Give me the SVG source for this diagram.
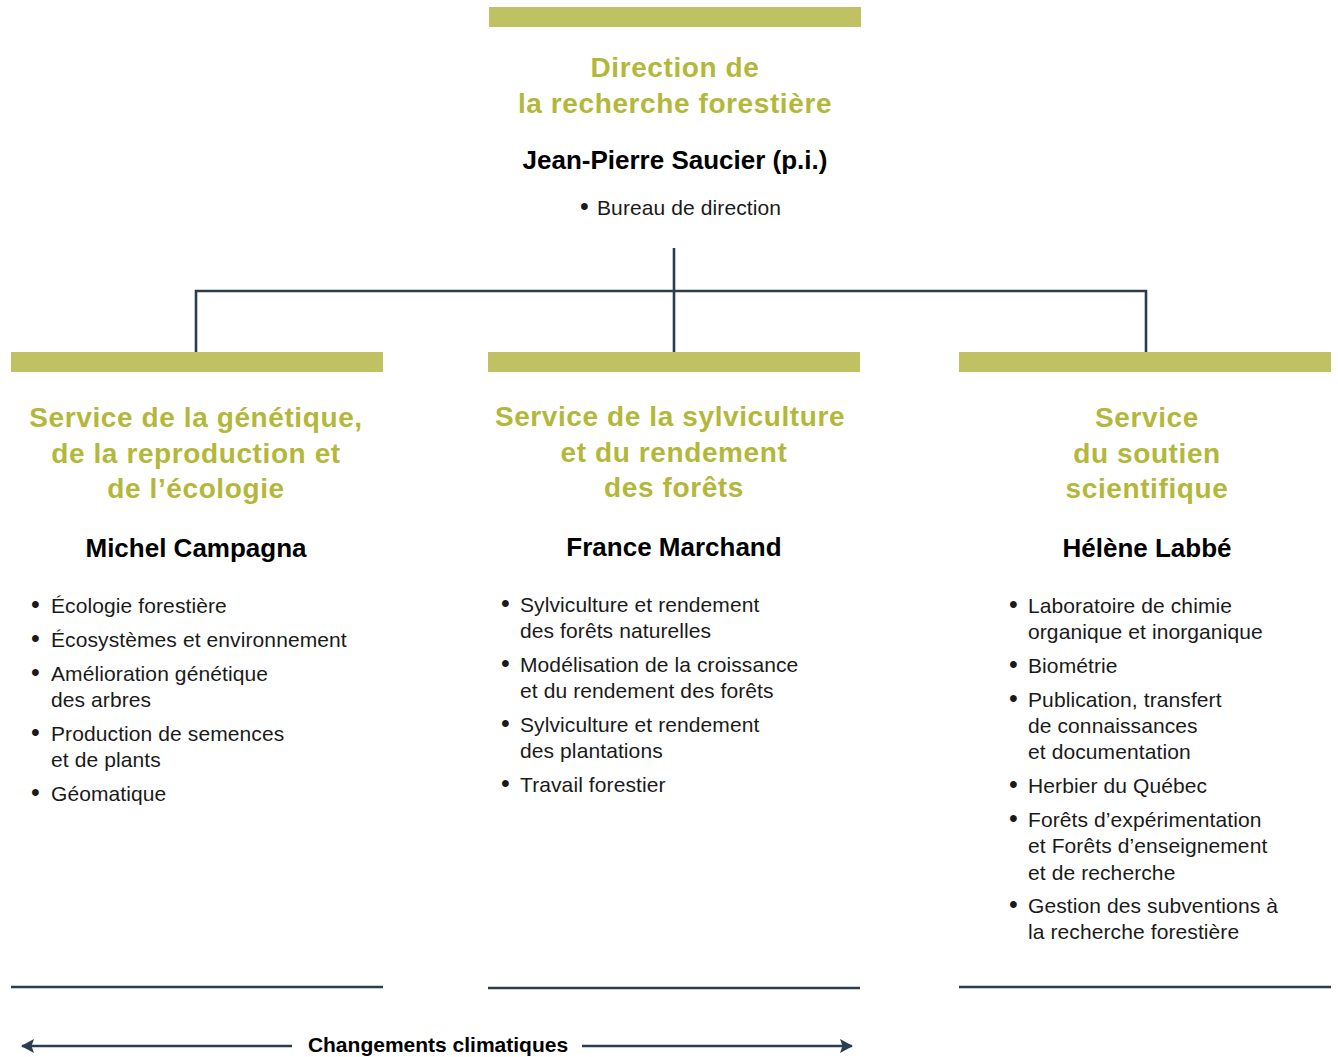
<svg xmlns="http://www.w3.org/2000/svg" width="1338" height="1057" viewBox="0 0 1338 1057">
<style>
.bar{fill:#C0C163}
.ln{stroke:#2B3E50;stroke-width:2.6;fill:none}
.t{font-family:"Liberation Sans",Arial,sans-serif;font-size:28px;letter-spacing:0.6px;font-weight:bold;fill:#B3B83B;text-anchor:middle}
.n{font-family:"Liberation Sans",Arial,sans-serif;font-size:26px;font-weight:bold;fill:#000;text-anchor:middle}
.b{font-family:"Liberation Sans",Arial,sans-serif;font-size:21px;letter-spacing:0.1px;fill:#1a1a1a}
.d{font-size:25px}
.c{font-family:"Liberation Sans",Arial,sans-serif;font-size:21px;font-weight:bold;fill:#000;text-anchor:middle}
</style>
<defs>
<marker id="ah" viewBox="0 0 13 14" refX="12" refY="7" markerWidth="13" markerHeight="14" orient="auto-start-reverse" markerUnits="userSpaceOnUse">
<path d="M0,0 L13,7 L0,14 L2.5,7 Z" fill="#2B3E50"/>
</marker>
</defs>
<g id="connectors">
<path class="ln" d="M674,248 V352 M196,352 V291 H1146 V352"/>
<line class="ln" x1="11" y1="987" x2="383" y2="987"/>
<line class="ln" x1="488" y1="988" x2="860" y2="988"/>
<line class="ln" x1="959" y1="987" x2="1331" y2="987"/>
<line class="ln" stroke-width="3" x1="22" y1="1046" x2="292" y2="1046" marker-start="url(#ah)"/>
<line class="ln" stroke-width="3" x1="582" y1="1046" x2="852" y2="1046" marker-end="url(#ah)"/>
<text class="c" x="438" y="1052">Changements climatiques</text>
</g>
<g id="direction">
<rect class="bar" x="489" y="7" width="372" height="20"/>
<text class="t" x="675" y="77">Direction de</text>
<text class="t" x="675" y="113">la recherche forestière</text>
<text class="n" x="675" y="169">Jean-Pierre Saucier (p.i.)</text>
<g class="b">
<text class="d" x="580" y="215">•</text><text x="597" y="215">Bureau de direction</text>
</g>
</g>
<g id="service-genetique">
<rect class="bar" x="11" y="352" width="372" height="20"/>
<text class="t" x="196" y="427">Service de la génétique,</text>
<text class="t" x="196" y="463">de la reproduction et</text>
<text class="t" x="196" y="498">de l’écologie</text>
<text class="n" x="196" y="557">Michel Campagna</text>
<g class="b">
<text class="d" x="31" y="613">•</text><text x="51" y="613">Écologie forestière</text>
<text class="d" x="31" y="647">•</text><text x="51" y="647">Écosystèmes et environnement</text>
<text class="d" x="31" y="681">•</text><text x="51" y="681">Amélioration génétique</text>
<text x="51" y="707">des arbres</text>
<text class="d" x="31" y="741">•</text><text x="51" y="741">Production de semences</text>
<text x="51" y="767">et de plants</text>
<text class="d" x="31" y="801">•</text><text x="51" y="801">Géomatique</text>
</g>
</g>
<g id="service-sylviculture">
<rect class="bar" x="488" y="352" width="372" height="20"/>
<text class="t" x="670" y="426">Service de la sylviculture</text>
<text class="t" x="674" y="462">et du rendement</text>
<text class="t" x="674" y="497">des forêts</text>
<text class="n" x="674" y="556">France Marchand</text>
<g class="b">
<text class="d" x="501" y="612">•</text><text x="520" y="612">Sylviculture et rendement</text>
<text x="520" y="638">des forêts naturelles</text>
<text class="d" x="501" y="672">•</text><text x="520" y="672">Modélisation de la croissance</text>
<text x="520" y="698">et du rendement des forêts</text>
<text class="d" x="501" y="732">•</text><text x="520" y="732">Sylviculture et rendement</text>
<text x="520" y="758">des plantations</text>
<text class="d" x="501" y="792">•</text><text x="520" y="792">Travail forestier</text>
</g>
</g>
<g id="service-soutien">
<rect class="bar" x="959" y="352" width="372" height="20"/>
<text class="t" x="1147" y="427">Service</text>
<text class="t" x="1147" y="463">du soutien</text>
<text class="t" x="1147" y="498">scientifique</text>
<text class="n" x="1147" y="557">Hélène Labbé</text>
<g class="b">
<text class="d" x="1009" y="613">•</text><text x="1028" y="613">Laboratoire de chimie</text>
<text x="1028" y="639">organique et inorganique</text>
<text class="d" x="1009" y="673">•</text><text x="1028" y="673">Biométrie</text>
<text class="d" x="1009" y="707">•</text><text x="1028" y="707">Publication, transfert</text>
<text x="1028" y="733">de connaissances</text>
<text x="1028" y="759">et documentation</text>
<text class="d" x="1009" y="793">•</text><text x="1028" y="793">Herbier du Québec</text>
<text class="d" x="1009" y="827">•</text><text x="1028" y="827">Forêts d’expérimentation</text>
<text x="1028" y="853">et Forêts d’enseignement</text>
<text x="1028" y="880">et de recherche</text>
<text class="d" x="1009" y="913">•</text><text x="1028" y="913">Gestion des subventions à</text>
<text x="1028" y="939">la recherche forestière</text>
</g>
</g>
</svg>
